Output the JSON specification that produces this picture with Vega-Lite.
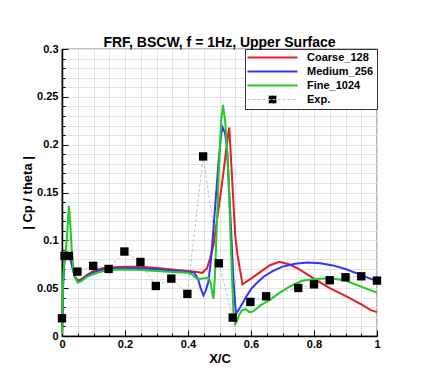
{
  "$schema": "https://vega.github.io/schema/vega-lite/v6.json",
  "width": 315,
  "height": 287,
  "autosize": {"type": "none"},
  "padding": {"left": 62, "top": 49, "right": 46, "bottom": 40},
  "background": "white",
  "config": {"view": {"stroke": "black", "strokeWidth": 1.2}, "font": "Liberation Sans"},
  "title": {"text": "FRF, BSCW, f = 1Hz, Upper Surface", "fontSize": 14, "fontWeight": "bold", "font": "Liberation Sans", "color": "black", "offset": -7, "anchor": "middle"},
  "data": {"values": [
    {"series": "Coarse_128", "x": 0, "y": 0.003},
    {"series": "Coarse_128", "x": 0.004, "y": 0.06},
    {"series": "Coarse_128", "x": 0.008, "y": 0.08},
    {"series": "Coarse_128", "x": 0.015, "y": 0.085},
    {"series": "Coarse_128", "x": 0.022, "y": 0.086},
    {"series": "Coarse_128", "x": 0.03, "y": 0.077},
    {"series": "Coarse_128", "x": 0.04, "y": 0.063},
    {"series": "Coarse_128", "x": 0.05, "y": 0.058},
    {"series": "Coarse_128", "x": 0.06, "y": 0.059},
    {"series": "Coarse_128", "x": 0.08, "y": 0.064},
    {"series": "Coarse_128", "x": 0.1, "y": 0.068},
    {"series": "Coarse_128", "x": 0.125, "y": 0.0705},
    {"series": "Coarse_128", "x": 0.15, "y": 0.0715},
    {"series": "Coarse_128", "x": 0.2, "y": 0.0725},
    {"series": "Coarse_128", "x": 0.25, "y": 0.0725},
    {"series": "Coarse_128", "x": 0.3, "y": 0.071},
    {"series": "Coarse_128", "x": 0.35, "y": 0.0695},
    {"series": "Coarse_128", "x": 0.4, "y": 0.068},
    {"series": "Coarse_128", "x": 0.43, "y": 0.067},
    {"series": "Coarse_128", "x": 0.445, "y": 0.066},
    {"series": "Coarse_128", "x": 0.46, "y": 0.0705},
    {"series": "Coarse_128", "x": 0.47, "y": 0.081},
    {"series": "Coarse_128", "x": 0.481, "y": 0.095},
    {"series": "Coarse_128", "x": 0.497, "y": 0.133},
    {"series": "Coarse_128", "x": 0.513, "y": 0.172},
    {"series": "Coarse_128", "x": 0.527, "y": 0.21},
    {"series": "Coarse_128", "x": 0.531, "y": 0.218},
    {"series": "Coarse_128", "x": 0.55, "y": 0.105},
    {"series": "Coarse_128", "x": 0.557, "y": 0.085},
    {"series": "Coarse_128", "x": 0.573, "y": 0.054},
    {"series": "Coarse_128", "x": 0.6, "y": 0.06},
    {"series": "Coarse_128", "x": 0.63, "y": 0.067},
    {"series": "Coarse_128", "x": 0.66, "y": 0.074},
    {"series": "Coarse_128", "x": 0.69, "y": 0.0775},
    {"series": "Coarse_128", "x": 0.72, "y": 0.075},
    {"series": "Coarse_128", "x": 0.75, "y": 0.0705},
    {"series": "Coarse_128", "x": 0.8, "y": 0.06},
    {"series": "Coarse_128", "x": 0.85, "y": 0.05},
    {"series": "Coarse_128", "x": 0.9, "y": 0.042},
    {"series": "Coarse_128", "x": 0.95, "y": 0.033},
    {"series": "Coarse_128", "x": 0.98, "y": 0.027},
    {"series": "Coarse_128", "x": 1.0, "y": 0.025},
    {"series": "Medium_256", "x": 0, "y": 0.003},
    {"series": "Medium_256", "x": 0.004, "y": 0.06},
    {"series": "Medium_256", "x": 0.008, "y": 0.08},
    {"series": "Medium_256", "x": 0.015, "y": 0.085},
    {"series": "Medium_256", "x": 0.022, "y": 0.085},
    {"series": "Medium_256", "x": 0.03, "y": 0.076},
    {"series": "Medium_256", "x": 0.04, "y": 0.062},
    {"series": "Medium_256", "x": 0.05, "y": 0.057},
    {"series": "Medium_256", "x": 0.06, "y": 0.058},
    {"series": "Medium_256", "x": 0.08, "y": 0.063},
    {"series": "Medium_256", "x": 0.1, "y": 0.0665},
    {"series": "Medium_256", "x": 0.125, "y": 0.069},
    {"series": "Medium_256", "x": 0.15, "y": 0.0702},
    {"series": "Medium_256", "x": 0.2, "y": 0.071},
    {"series": "Medium_256", "x": 0.25, "y": 0.0708},
    {"series": "Medium_256", "x": 0.3, "y": 0.0698},
    {"series": "Medium_256", "x": 0.35, "y": 0.0685},
    {"series": "Medium_256", "x": 0.4, "y": 0.067},
    {"series": "Medium_256", "x": 0.42, "y": 0.0665},
    {"series": "Medium_256", "x": 0.433, "y": 0.0585},
    {"series": "Medium_256", "x": 0.44, "y": 0.05},
    {"series": "Medium_256", "x": 0.449, "y": 0.0425},
    {"series": "Medium_256", "x": 0.457, "y": 0.048},
    {"series": "Medium_256", "x": 0.465, "y": 0.057},
    {"series": "Medium_256", "x": 0.473, "y": 0.08},
    {"series": "Medium_256", "x": 0.481, "y": 0.1125},
    {"series": "Medium_256", "x": 0.497, "y": 0.182},
    {"series": "Medium_256", "x": 0.505, "y": 0.21},
    {"series": "Medium_256", "x": 0.51, "y": 0.218},
    {"series": "Medium_256", "x": 0.517, "y": 0.213},
    {"series": "Medium_256", "x": 0.523, "y": 0.2},
    {"series": "Medium_256", "x": 0.534, "y": 0.13},
    {"series": "Medium_256", "x": 0.544, "y": 0.06},
    {"series": "Medium_256", "x": 0.552, "y": 0.0237},
    {"series": "Medium_256", "x": 0.558, "y": 0.026},
    {"series": "Medium_256", "x": 0.566, "y": 0.03},
    {"series": "Medium_256", "x": 0.581, "y": 0.039},
    {"series": "Medium_256", "x": 0.6, "y": 0.049},
    {"series": "Medium_256", "x": 0.62, "y": 0.056},
    {"series": "Medium_256", "x": 0.64, "y": 0.062},
    {"series": "Medium_256", "x": 0.67, "y": 0.068},
    {"series": "Medium_256", "x": 0.7, "y": 0.0725},
    {"series": "Medium_256", "x": 0.74, "y": 0.0755},
    {"series": "Medium_256", "x": 0.78, "y": 0.0768},
    {"series": "Medium_256", "x": 0.82, "y": 0.076},
    {"series": "Medium_256", "x": 0.86, "y": 0.0738},
    {"series": "Medium_256", "x": 0.9, "y": 0.07},
    {"series": "Medium_256", "x": 0.94, "y": 0.065},
    {"series": "Medium_256", "x": 0.97, "y": 0.061},
    {"series": "Medium_256", "x": 1.0, "y": 0.0575},
    {"series": "Fine_1024", "x": 0, "y": 0.002},
    {"series": "Fine_1024", "x": 0.003, "y": 0.05},
    {"series": "Fine_1024", "x": 0.007, "y": 0.08},
    {"series": "Fine_1024", "x": 0.012, "y": 0.088},
    {"series": "Fine_1024", "x": 0.017, "y": 0.11},
    {"series": "Fine_1024", "x": 0.022, "y": 0.136},
    {"series": "Fine_1024", "x": 0.026, "y": 0.118},
    {"series": "Fine_1024", "x": 0.031, "y": 0.09},
    {"series": "Fine_1024", "x": 0.036, "y": 0.07},
    {"series": "Fine_1024", "x": 0.043, "y": 0.06},
    {"series": "Fine_1024", "x": 0.05, "y": 0.0557},
    {"series": "Fine_1024", "x": 0.06, "y": 0.057},
    {"series": "Fine_1024", "x": 0.075, "y": 0.061},
    {"series": "Fine_1024", "x": 0.093, "y": 0.0638},
    {"series": "Fine_1024", "x": 0.12, "y": 0.067},
    {"series": "Fine_1024", "x": 0.146, "y": 0.069},
    {"series": "Fine_1024", "x": 0.2, "y": 0.0695},
    {"series": "Fine_1024", "x": 0.25, "y": 0.069},
    {"series": "Fine_1024", "x": 0.3, "y": 0.068},
    {"series": "Fine_1024", "x": 0.35, "y": 0.067},
    {"series": "Fine_1024", "x": 0.4, "y": 0.066},
    {"series": "Fine_1024", "x": 0.415, "y": 0.064},
    {"series": "Fine_1024", "x": 0.428, "y": 0.06},
    {"series": "Fine_1024", "x": 0.44, "y": 0.0598},
    {"series": "Fine_1024", "x": 0.454, "y": 0.0603},
    {"series": "Fine_1024", "x": 0.465, "y": 0.061},
    {"series": "Fine_1024", "x": 0.472, "y": 0.056},
    {"series": "Fine_1024", "x": 0.477, "y": 0.045},
    {"series": "Fine_1024", "x": 0.481, "y": 0.039},
    {"series": "Fine_1024", "x": 0.485, "y": 0.06},
    {"series": "Fine_1024", "x": 0.488, "y": 0.0847},
    {"series": "Fine_1024", "x": 0.497, "y": 0.165},
    {"series": "Fine_1024", "x": 0.505, "y": 0.224},
    {"series": "Fine_1024", "x": 0.511, "y": 0.2415},
    {"series": "Fine_1024", "x": 0.518, "y": 0.224},
    {"series": "Fine_1024", "x": 0.527, "y": 0.182},
    {"series": "Fine_1024", "x": 0.536, "y": 0.095},
    {"series": "Fine_1024", "x": 0.544, "y": 0.0254},
    {"series": "Fine_1024", "x": 0.55, "y": 0.0122},
    {"series": "Fine_1024", "x": 0.555, "y": 0.015},
    {"series": "Fine_1024", "x": 0.562, "y": 0.022},
    {"series": "Fine_1024", "x": 0.572, "y": 0.027},
    {"series": "Fine_1024", "x": 0.583, "y": 0.028},
    {"series": "Fine_1024", "x": 0.595, "y": 0.025},
    {"series": "Fine_1024", "x": 0.605, "y": 0.0255},
    {"series": "Fine_1024", "x": 0.615, "y": 0.028},
    {"series": "Fine_1024", "x": 0.63, "y": 0.032},
    {"series": "Fine_1024", "x": 0.661, "y": 0.038},
    {"series": "Fine_1024", "x": 0.69, "y": 0.045},
    {"series": "Fine_1024", "x": 0.725, "y": 0.052},
    {"series": "Fine_1024", "x": 0.76, "y": 0.0575},
    {"series": "Fine_1024", "x": 0.8, "y": 0.0596},
    {"series": "Fine_1024", "x": 0.852, "y": 0.0603},
    {"series": "Fine_1024", "x": 0.9, "y": 0.058},
    {"series": "Fine_1024", "x": 0.936, "y": 0.0533},
    {"series": "Fine_1024", "x": 0.97, "y": 0.049},
    {"series": "Fine_1024", "x": 1.0, "y": 0.0453},
    {"series": "Exp.", "x": 0, "y": 0.0185},
    {"series": "Exp.", "x": 0.008, "y": 0.0837},
    {"series": "Exp.", "x": 0.022, "y": 0.0837},
    {"series": "Exp.", "x": 0.049, "y": 0.0673},
    {"series": "Exp.", "x": 0.099, "y": 0.0733},
    {"series": "Exp.", "x": 0.148, "y": 0.0701},
    {"series": "Exp.", "x": 0.198, "y": 0.0883},
    {"series": "Exp.", "x": 0.249, "y": 0.0774},
    {"series": "Exp.", "x": 0.298, "y": 0.0523},
    {"series": "Exp.", "x": 0.347, "y": 0.06},
    {"series": "Exp.", "x": 0.398, "y": 0.044},
    {"series": "Exp.", "x": 0.448, "y": 0.1877},
    {"series": "Exp.", "x": 0.498, "y": 0.076},
    {"series": "Exp.", "x": 0.542, "y": 0.0192},
    {"series": "Exp.", "x": 0.598, "y": 0.0356},
    {"series": "Exp.", "x": 0.648, "y": 0.0415},
    {"series": "Exp.", "x": 0.75, "y": 0.0502},
    {"series": "Exp.", "x": 0.8, "y": 0.054},
    {"series": "Exp.", "x": 0.85, "y": 0.0583},
    {"series": "Exp.", "x": 0.9, "y": 0.0614},
    {"series": "Exp.", "x": 0.95, "y": 0.0624},
    {"series": "Exp.", "x": 1.0, "y": 0.0579}
  ]},
  "encoding": {
    "x": {"field": "x", "type": "quantitative", "scale": {"domain": [0, 1], "nice": false, "zero": false},
      "axis": {"values": [0,0.05,0.1,0.15,0.2,0.25,0.3,0.35,0.4,0.45,0.5,0.55,0.6,0.65,0.7,0.75,0.8,0.85,0.9,0.95,1],
        "labelExpr": "abs(datum.value*5 - round(datum.value*5)) < 1e-6 ? toString(round(datum.value*10)/10) : ''",
        "grid": true, "gridColor": "#e2e2e2", "gridWidth": 1,
        "domainColor": "black", "domainWidth": 1.5,
        "tickColor": "black", "tickWidth": 1,
        "tickSize": {"condition": {"test": "abs(datum.value*5 - round(datum.value*5)) < 1e-6", "value": -6}, "value": -3},
        "labelFlush": false, "labelOverlap": false, "labelPadding": 8,
        "labelFont": "Liberation Sans", "labelFontWeight": "bold", "labelFontSize": 11, "labelColor": "black",
        "title": "X/C", "titleFont": "Liberation Sans", "titleFontWeight": "bold", "titleFontSize": 13, "titleColor": "black", "titlePadding": 0}},
    "y": {"field": "y", "type": "quantitative", "scale": {"domain": [0, 0.3], "nice": false},
      "axis": {"values": [0,0.01,0.02,0.03,0.04,0.05,0.06,0.07,0.08,0.09,0.1,0.11,0.12,0.13,0.14,0.15,0.16,0.17,0.18,0.19,0.2,0.21,0.22,0.23,0.24,0.25,0.26,0.27,0.28,0.29,0.3],
        "labelExpr": "abs(datum.value*20 - round(datum.value*20)) < 1e-6 ? toString(round(datum.value*100)/100) : ''",
        "grid": true, "gridColor": "#e2e2e2", "gridWidth": 1,
        "domainColor": "black", "domainWidth": 1.5,
        "tickColor": "black", "tickWidth": 1,
        "tickSize": {"condition": {"test": "abs(datum.value*20 - round(datum.value*20)) < 1e-6", "value": -6}, "value": -3},
        "labelFlush": false, "labelOverlap": false, "labelPadding": 10,
        "labelFont": "Liberation Sans", "labelFontWeight": "bold", "labelFontSize": 11, "labelColor": "black",
        "title": "| Cp / theta |", "titleFont": "Liberation Sans", "titleFontWeight": "bold", "titleFontSize": 13, "titleColor": "black", "titlePadding": 2}}
  },
  "layer": [
    {
      "transform": [{"filter": "datum.series === 'Exp.'"}],
      "mark": {"type": "line", "strokeWidth": 1, "strokeDash": [3, 2]},
      "encoding": {
        "color": {"field": "series", "type": "nominal",
          "scale": {"domain": ["Coarse_128", "Medium_256", "Fine_1024", "Exp."], "range": ["#e31e24", "#3333ff", "#22cc22", "#c4c4c4"]},
          "legend": {"title": null, "orient": "top-right", "offset": 0, "padding": 3,
            "strokeColor": "#333333", "fillColor": "white", "cornerRadius": 0,
            "labelFont": "Liberation Sans", "labelFontWeight": "bold", "labelFontSize": 11, "labelColor": "black", "labelLimit": 200,
            "symbolType": "M-1.2,0H8.8", "symbolSize": 100, "symbolStrokeWidth": 2, "labelOffset": 48, "rowPadding": 2,
            "encode": {"symbols": {"update": {
              "shape": {"signal": "datum.value === 'Exp.' ? 'M-1.2,0H8.8M3,-0.8H4.6V0.8H3Z' : 'M-1.2,0H8.8'"},
              "fill": {"signal": "datum.value === 'Exp.' ? 'black' : 'transparent'"},
              "strokeWidth": {"signal": "datum.value === 'Exp.' ? 1 : 2"},
              "strokeDash": {"signal": "datum.value === 'Exp.' ? [3,2] : [1,0]"}
            }}}}
        }
      }
    },
    {
      "transform": [{"filter": "datum.series !== 'Exp.'"}],
      "mark": {"type": "line", "strokeWidth": 2},
      "encoding": {
        "color": {"field": "series", "type": "nominal"}
      }
    },
    {
      "transform": [{"filter": "datum.series === 'Exp.'"}],
      "mark": {"type": "point", "shape": "square", "filled": true, "size": 70, "color": "black", "opacity": 1}
    }
  ]
}
